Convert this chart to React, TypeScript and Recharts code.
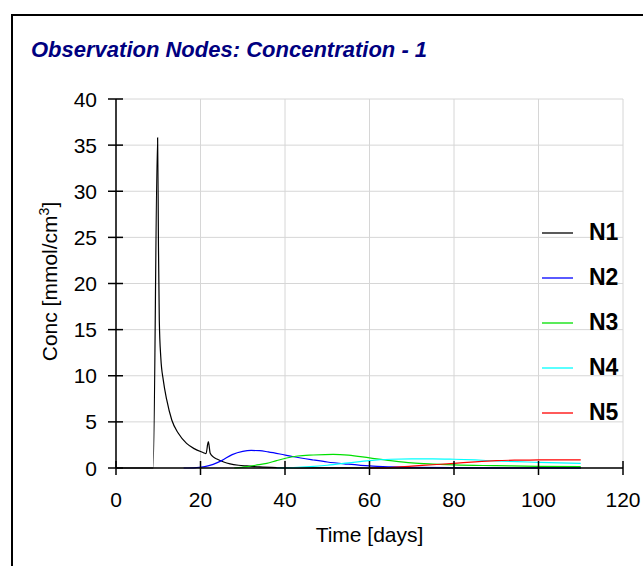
import React from 'react';
import { LineChart, Line, XAxis, YAxis, CartesianGrid, Legend, Label } from 'recharts';

const FONT = '"Liberation Sans", Arial, Helvetica, sans-serif';

const n1Time = [0, 8.8, 9.85, 10.05, 10.25, 10.6, 11.2, 12.0, 13.2, 14.75, 16.7, 18.5, 20.7, 21.3, 21.85, 22.3, 23, 24, 25.5, 27, 29, 31, 34, 38, 42, 50, 60, 80, 110];
const n1Conc = [0, 0, 35.8, 24, 16, 12, 9.5, 7.4, 5.2, 3.76, 2.67, 2.1, 1.66, 1.55, 2.85, 1.6, 1.2, 0.95, 0.65, 0.45, 0.3, 0.22, 0.12, 0.05, 0.02, 0.01, 0, 0, 0];

const n2Time = [16, 19, 21, 23, 25, 27.5, 30, 32, 34, 36, 38.8, 42, 46.7, 50, 54.6, 60, 65, 70, 80, 90, 110];
const n2Conc = [0, 0.05, 0.15, 0.4, 0.8, 1.45, 1.8, 1.9, 1.88, 1.75, 1.52, 1.22, 0.87, 0.65, 0.43, 0.22, 0.13, 0.08, 0.04, 0.02, 0.01];

const n3Time = [28, 31, 33, 35.7, 38, 40.4, 43, 46.7, 51.4, 55, 60, 65, 70, 75, 80, 90, 100, 110];
const n3Conc = [0, 0.15, 0.3, 0.5, 0.8, 1.08, 1.3, 1.41, 1.48, 1.4, 1.1, 0.8, 0.55, 0.42, 0.33, 0.25, 0.18, 0.15];

const n4Time = [38, 42, 46, 50, 55, 60, 65, 70, 75, 80, 85, 90, 100, 110];
const n4Conc = [0, 0.05, 0.15, 0.3, 0.55, 0.8, 0.95, 1.0, 1.0, 0.95, 0.87, 0.76, 0.62, 0.5];

const n5Time = [60, 65, 70, 75, 80, 85, 90, 95, 100, 105, 110];
const n5Conc = [0, 0.05, 0.2, 0.35, 0.5, 0.67, 0.8, 0.85, 0.87, 0.88, 0.88];

const xTicks = [0, 20, 40, 60, 80, 100, 120];
const yTicks = [0, 5, 10, 15, 20, 25, 30, 35, 40];

const toPoints = (t: number[], c: number[]) => t.map((x, i) => ({ x, y: c[i] }));

const series = [
  { name: 'N1', color: '#000000', data: toPoints(n1Time, n1Conc) },
  { name: 'N2', color: '#0000ff', data: toPoints(n2Time, n2Conc) },
  { name: 'N3', color: '#00e000', data: toPoints(n3Time, n3Conc) },
  { name: 'N4', color: '#00ffff', data: toPoints(n4Time, n4Conc) },
  { name: 'N5', color: '#ff0000', data: toPoints(n5Time, n5Conc) },
];

const XTick = ({ x, y, payload }: any) => (
  <g>
    <line x1={x} x2={x} y1={y - 7} y2={y + 7} stroke="#000" strokeWidth={1.5} />
    <text x={x} y={y + 39} textAnchor="middle" fontSize={21} fontFamily={FONT} fill="#000">
      {payload.value}
    </text>
  </g>
);

const YTick = ({ x, y, payload }: any) => (
  <g>
    <line x1={x - 8} x2={x + 7} y1={y} y2={y} stroke="#000" strokeWidth={1.5} />
    <text x={x - 19} y={y + 7.5} textAnchor="end" fontSize={21} fontFamily={FONT} fill="#000">
      {payload.value}
    </text>
  </g>
);

const LegendBox = () => (
  <div style={{ fontFamily: FONT }}>
    {series.map((s) => (
      <div key={s.name} style={{ display: 'flex', alignItems: 'center', height: 45 }}>
        <svg width={31} height={4} style={{ marginRight: 16, display: 'block' }}>
          <line x1={0} x2={31} y1={2} y2={2} stroke={s.color} strokeWidth={1.3} />
        </svg>
        <span style={{ fontSize: 23, fontWeight: 'bold', color: '#000' }}>{s.name}</span>
      </div>
    ))}
  </div>
);

export default function App() {
  return (
    <div style={{ position: 'absolute', left: 0, top: 0, width: 643, height: 566, background: '#fff', overflow: 'hidden' }}>
      {/* frame, only top and left edges show in the picture */}
      <div style={{ position: 'absolute', left: 11, top: 14, width: 640, height: 560, borderTop: '2px solid #000', borderLeft: '2px solid #000' }} />
      <div
        style={{
          position: 'absolute', left: 31, top: 37, fontFamily: FONT, fontSize: 22,
          fontWeight: 'bold', fontStyle: 'italic', color: '#000080', whiteSpace: 'nowrap',
        }}
      >
        Observation Nodes: Concentration - 1
      </div>
      <LineChart width={643} height={566} margin={{ top: 99, right: 20, bottom: 38, left: 56 }}>
        <CartesianGrid stroke="#d6d6d6" strokeWidth={1} />
        <XAxis
          dataKey="x"
          type="number"
          domain={[0, 120]}
          ticks={xTicks}
          interval={0}
          height={60}
          tickSize={0}
          tickMargin={0}
          tickLine={false}
          tick={<XTick />}
          axisLine={{ stroke: '#000', strokeWidth: 1.5 }}
        >
          <Label
            content={({ viewBox }: any) => (
              <text
                x={viewBox.x + viewBox.width / 2}
                y={viewBox.y + 74}
                textAnchor="middle"
                fontSize={21}
                fontFamily={FONT}
                fill="#000"
              >
                Time [days]
              </text>
            )}
          />
        </XAxis>
        <YAxis
          type="number"
          domain={[0, 40]}
          ticks={yTicks}
          interval={0}
          width={60}
          tickSize={0}
          tickMargin={0}
          tickLine={false}
          tick={<YTick />}
          axisLine={{ stroke: '#000', strokeWidth: 1.5 }}
        >
          <Label
            content={({ viewBox }: any) => {
              const cx = viewBox.x + viewBox.width - 59;
              const cy = viewBox.y + viewBox.height / 2 - 2;
              return (
                <text
                  x={cx}
                  y={cy}
                  transform={`rotate(-90 ${cx} ${cy})`}
                  textAnchor="middle"
                  fontSize={21}
                  fontFamily={FONT}
                  fill="#000"
                >
                  Conc [mmol/cm
                  <tspan dy={-8} fontSize={14}>3</tspan>
                  <tspan dy={8}>]</tspan>
                </text>
              );
            }}
          />
        </YAxis>
        <Legend
          layout="vertical"
          align="center"
          verticalAlign="middle"
          content={<LegendBox />}
          wrapperStyle={{ left: 542, top: 210, width: 100 }}
        />
        {series.map((s) => (
          <Line
            key={s.name}
            data={s.data}
            dataKey="y"
            name={s.name}
            type="monotone"
            stroke={s.color}
            strokeWidth={1.2}
            dot={false}
            activeDot={false}
            isAnimationActive={false}
          />
        ))}
      </LineChart>
    </div>
  );
}
